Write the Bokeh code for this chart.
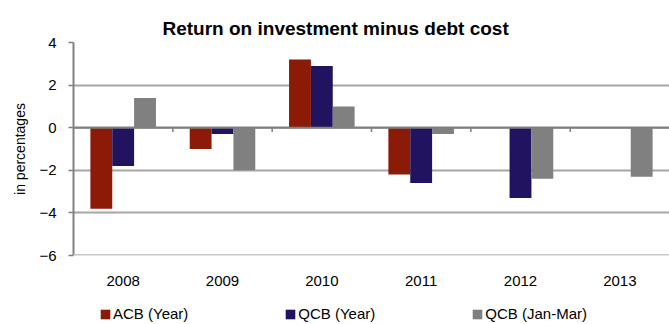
import numpy as np
from bokeh.plotting import figure
from bokeh.layouts import column
from bokeh.models import ColumnDataSource, FixedTicker, Legend, LegendItem, Span
from bokeh.embed import file_html
from bokeh.resources import INLINE

years = ["2008", "2009", "2010", "2011", "2012", "2013"]
acb_year = [-3.8, -1.0, 3.2, -2.2, np.nan, np.nan]
qcb_year = [-1.8, -0.3, 2.9, -2.6, -3.3, np.nan]
qcb_janmar = [1.4, -2.0, 1.0, -0.3, -2.4, -2.3]
series_names = ["ACB (Year)", "QCB (Year)", "QCB (Jan-Mar)"]
colors = ["#8B1A06", "#21135F", "#808080"]
y_ticks = [4, 2, 0, -2, -4, -6]

FONT = "Liberation Sans"

n = len(years)
centers = np.arange(n) + 0.5

p = figure(frame_width=596, frame_height=213, output_backend="svg", toolbar_location=None,
           x_range=(0, n), y_range=(-6, 4),
           title="Return on investment minus debt cost",
           min_border_left=73, min_border_right=0, min_border_top=42, min_border_bottom=44)
p.outline_line_color = None
p.background_fill_color = "white"

p.title.text_font = FONT
p.title.text_font_size = "19px"
p.title.text_font_style = "bold"
p.title.text_color = "black"
p.title.align = "left"
p.title.offset = 89
p.title.standoff = 7

offsets = [-0.22, 0.0, 0.22]
sources = []
for vals, off, col in zip([acb_year, qcb_year, qcb_janmar], offsets, colors):
    src = ColumnDataSource(dict(x=centers + off, top=vals))
    sources.append(src)
    p.vbar(x="x", top="top", bottom=0, width=0.22, source=src,
           fill_color=col, line_color=None)

# grid
p.xgrid.visible = False
p.ygrid.ticker = FixedTicker(ticks=y_ticks)
p.ygrid.grid_line_color = "#A6A6A6"
p.ygrid.grid_line_width = 2

# zero line and baseline
p.add_layout(Span(location=0, dimension="width", line_color="#808080", line_width=2))
p.add_layout(Span(location=-6, dimension="width", line_color="#C8C8C8", line_width=3))

# category boundary ticks on zero line
bounds = np.arange(1, n)
p.segment(x0=bounds, y0=np.zeros(n - 1), x1=bounds, y1=np.full(n - 1, -0.2),
          line_color="#808080", line_width=1.5)

# y axis
ya = p.yaxis[0]
ya.ticker = FixedTicker(ticks=y_ticks)
ya.axis_line_color = "#808080"
ya.axis_line_width = 2
ya.major_tick_line_color = "#808080"
ya.major_tick_line_width = 1.5
ya.major_tick_out = 5
ya.major_tick_in = 0
ya.minor_tick_line_color = None
ya.major_label_text_font = FONT
ya.major_label_text_font_size = "15px"
ya.major_label_text_color = "black"
ya.major_label_standoff = 12
ya.axis_label = "in percentages"
ya.axis_label_text_font = FONT
ya.axis_label_text_font_size = "14px"
ya.axis_label_text_font_style = "normal"
ya.axis_label_text_color = "black"
ya.axis_label_standoff = 8

# x axis
xa = p.xaxis[0]
xa.ticker = FixedTicker(ticks=list(centers))
xa.major_label_overrides = {float(c): y for c, y in zip(centers, years)}
xa.axis_line_color = None
xa.major_tick_line_color = None
xa.minor_tick_line_color = None
xa.major_label_text_font = FONT
xa.major_label_text_font_size = "15px"
xa.major_label_text_color = "black"
xa.major_label_standoff = 14

# legend strip below the chart (series bars lie outside this strip's view)
lg = figure(width=669, height=25, output_backend="svg", toolbar_location=None,
            x_range=(-100, -99), y_range=(0, 1), x_axis_type=None, y_axis_type=None,
            min_border_left=0, min_border_right=0, min_border_top=0, min_border_bottom=0)
lg.outline_line_color = None
lg.xgrid.visible = False
lg.ygrid.visible = False
swatches = [lg.vbar(x="x", top="top", bottom=0, width=0.22, source=src,
                    fill_color=col, line_color=None)
            for src, col in zip(sources, colors)]

legend = Legend(items=[LegendItem(label=nm, renderers=[r]) for nm, r in zip(series_names, swatches)],
                orientation="horizontal", location=(26, 2),
                label_text_font=FONT, label_text_font_size="15px", label_text_color="black",
                glyph_width=12, glyph_height=12, label_standoff=2, label_height=15,
                spacing=96, padding=0, margin=0,
                border_line_color=None, background_fill_alpha=0)
lg.add_layout(legend, "center")

layout = column(p, lg, spacing=0)
open("out.html", "w").write(file_html(layout, INLINE))
